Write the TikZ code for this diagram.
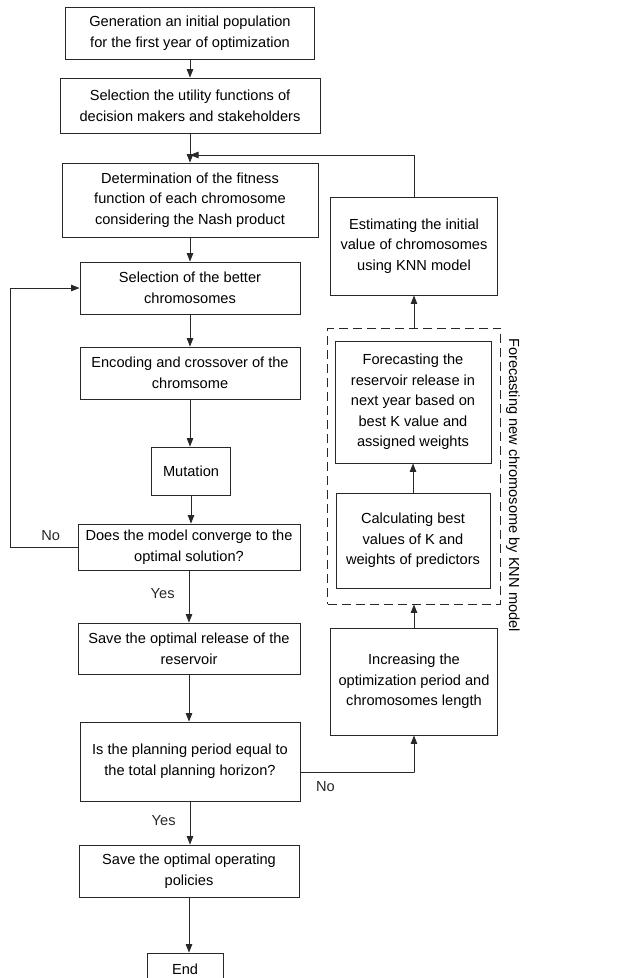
\documentclass[tikz,border=0pt]{standalone}
\usepackage{fontspec}
\setmainfont{Liberation Sans}
\usepackage{tikz}
\usetikzlibrary{arrows.meta, positioning, calc}
\definecolor{linegray}{RGB}{40, 40, 40}
\tikzset{
  stepbox/.style  = {rectangle, draw=linegray, line width=0.9pt, align=center, inner sep=1pt, font=\fontsize{14.6pt}{20.6pt}\selectfont},
  flow/.style     = {-{Triangle[length=8.5pt, width=6.5pt]}, line width=0.9pt, linegray},
  grpbox/.style   = {rectangle, draw=linegray, line width=0.9pt, dash pattern=on 9pt off 5pt},
  lbl/.style      = {font=\fontsize{14.6pt}{20.6pt}\selectfont, inner sep=0pt},
}

\begin{document}
\begin{tikzpicture}[x=1pt, y=-1pt]
  \useasboundingbox (0,0) rectangle (620,978);

  % main column
  \node[stepbox, minimum width=249, minimum height=52] (gen)  at (190,33)    {Generation an initial population\\for the first year of optimization};
  \node[stepbox, minimum width=260, minimum height=55] (util) at (190,105.5) {Selection the utility functions of\\decision makers and stakeholders};
  \node[stepbox, minimum width=256, minimum height=74] (fit)  at (190,200)   {Determination of the fitness\\function of each chromosome\\considering the Nash product};
  \node[stepbox, minimum width=220, minimum height=52] (sel)  at (190,288)   {Selection of the better\\chromosomes};
  \node[stepbox, minimum width=220, minimum height=52] (enc)  at (190,373)   {Encoding and crossover of the\\chromsome};
  \node[stepbox, minimum width=79,  minimum height=48] (mut)  at (191,471)   {Mutation};
  \node[stepbox, minimum width=222, minimum height=46] (conv) at (189,547)   {Does the model converge to the\\optimal solution?};
  \node[stepbox, minimum width=222, minimum height=51] (rel)  at (189,648.5) {Save the optimal release of the\\reservoir};
  \node[stepbox, minimum width=220, minimum height=79] (plan) at (190,761.5) {Is the planning period equal to\\the total planning horizon?};
  \node[stepbox, minimum width=220, minimum height=52] (pol)  at (189,871)   {Save the optimal operating\\policies};
  \node[stepbox, minimum width=76,  minimum height=32] (fin)  at (185,969)   {End};

  % right column
  \node[stepbox, minimum width=167, minimum height=98]  (knn)  at (414,246)   {Estimating the initial\\value of chromosomes\\using KNN model};
  \node[grpbox,  minimum width=173, minimum height=276] (grp)  at (414,466)   {};
  \node[stepbox, minimum width=156, minimum height=122] (fore) at (413,402)   {Forecasting the\\reservoir release in\\next year based on\\best K value and\\assigned weights};
  \node[stepbox, minimum width=154, minimum height=95]  (calc) at (413,540.5) {Calculating best\\values of K and\\weights of predictors};
  \node[stepbox, minimum width=167, minimum height=107] (inc)  at (414,681.5) {Increasing the\\optimization period and\\chromosomes length};
  \node[lbl, rotate=-90] (grplbl) at (513,485) {Forecasting new chromosome by KNN model};

  \coordinate (join) at (190,155);

  \draw[flow] (gen)  -- (util);
  \draw[flow] (util) -- (fit);
  \draw[flow] (fit)  -- (sel);
  \draw[flow] (sel)  -- (enc);
  \draw[flow] (enc.south) -- (enc.south |- mut.north);
  \draw[flow] (mut.south) -- (mut.south |- conv.north);
  \draw[flow] (conv.south) -- node[lbl, pos=0.45, left=14pt] {Yes} (conv.south |- rel.north);
  \draw[flow] (rel.south) -- (rel.south |- plan.north);
  \draw[flow] (plan.south) -- node[lbl, pos=0.45, left=14pt] {Yes} (plan.south |- pol.north);
  \draw[flow] (pol.south) -- (pol.south |- fin.north);

  % loops
  \draw[flow] (conv.west) -- ++(-67,0) node[lbl, pos=0.4, above=6pt] {No} |- (sel.west);
  \draw[flow] (knn.north) |- (join);
  \draw[flow] (grp.north) -- (knn.south);
  \draw[flow] (calc) -- (fore);
  \draw[flow] (inc) -- (grp.south);
  \draw[flow] ([yshift=-10.5pt]plan.east) -- node[lbl, pos=0.22, below=9pt] {No} ++(114,0) -| (inc.south);
\end{tikzpicture}
\end{document}
